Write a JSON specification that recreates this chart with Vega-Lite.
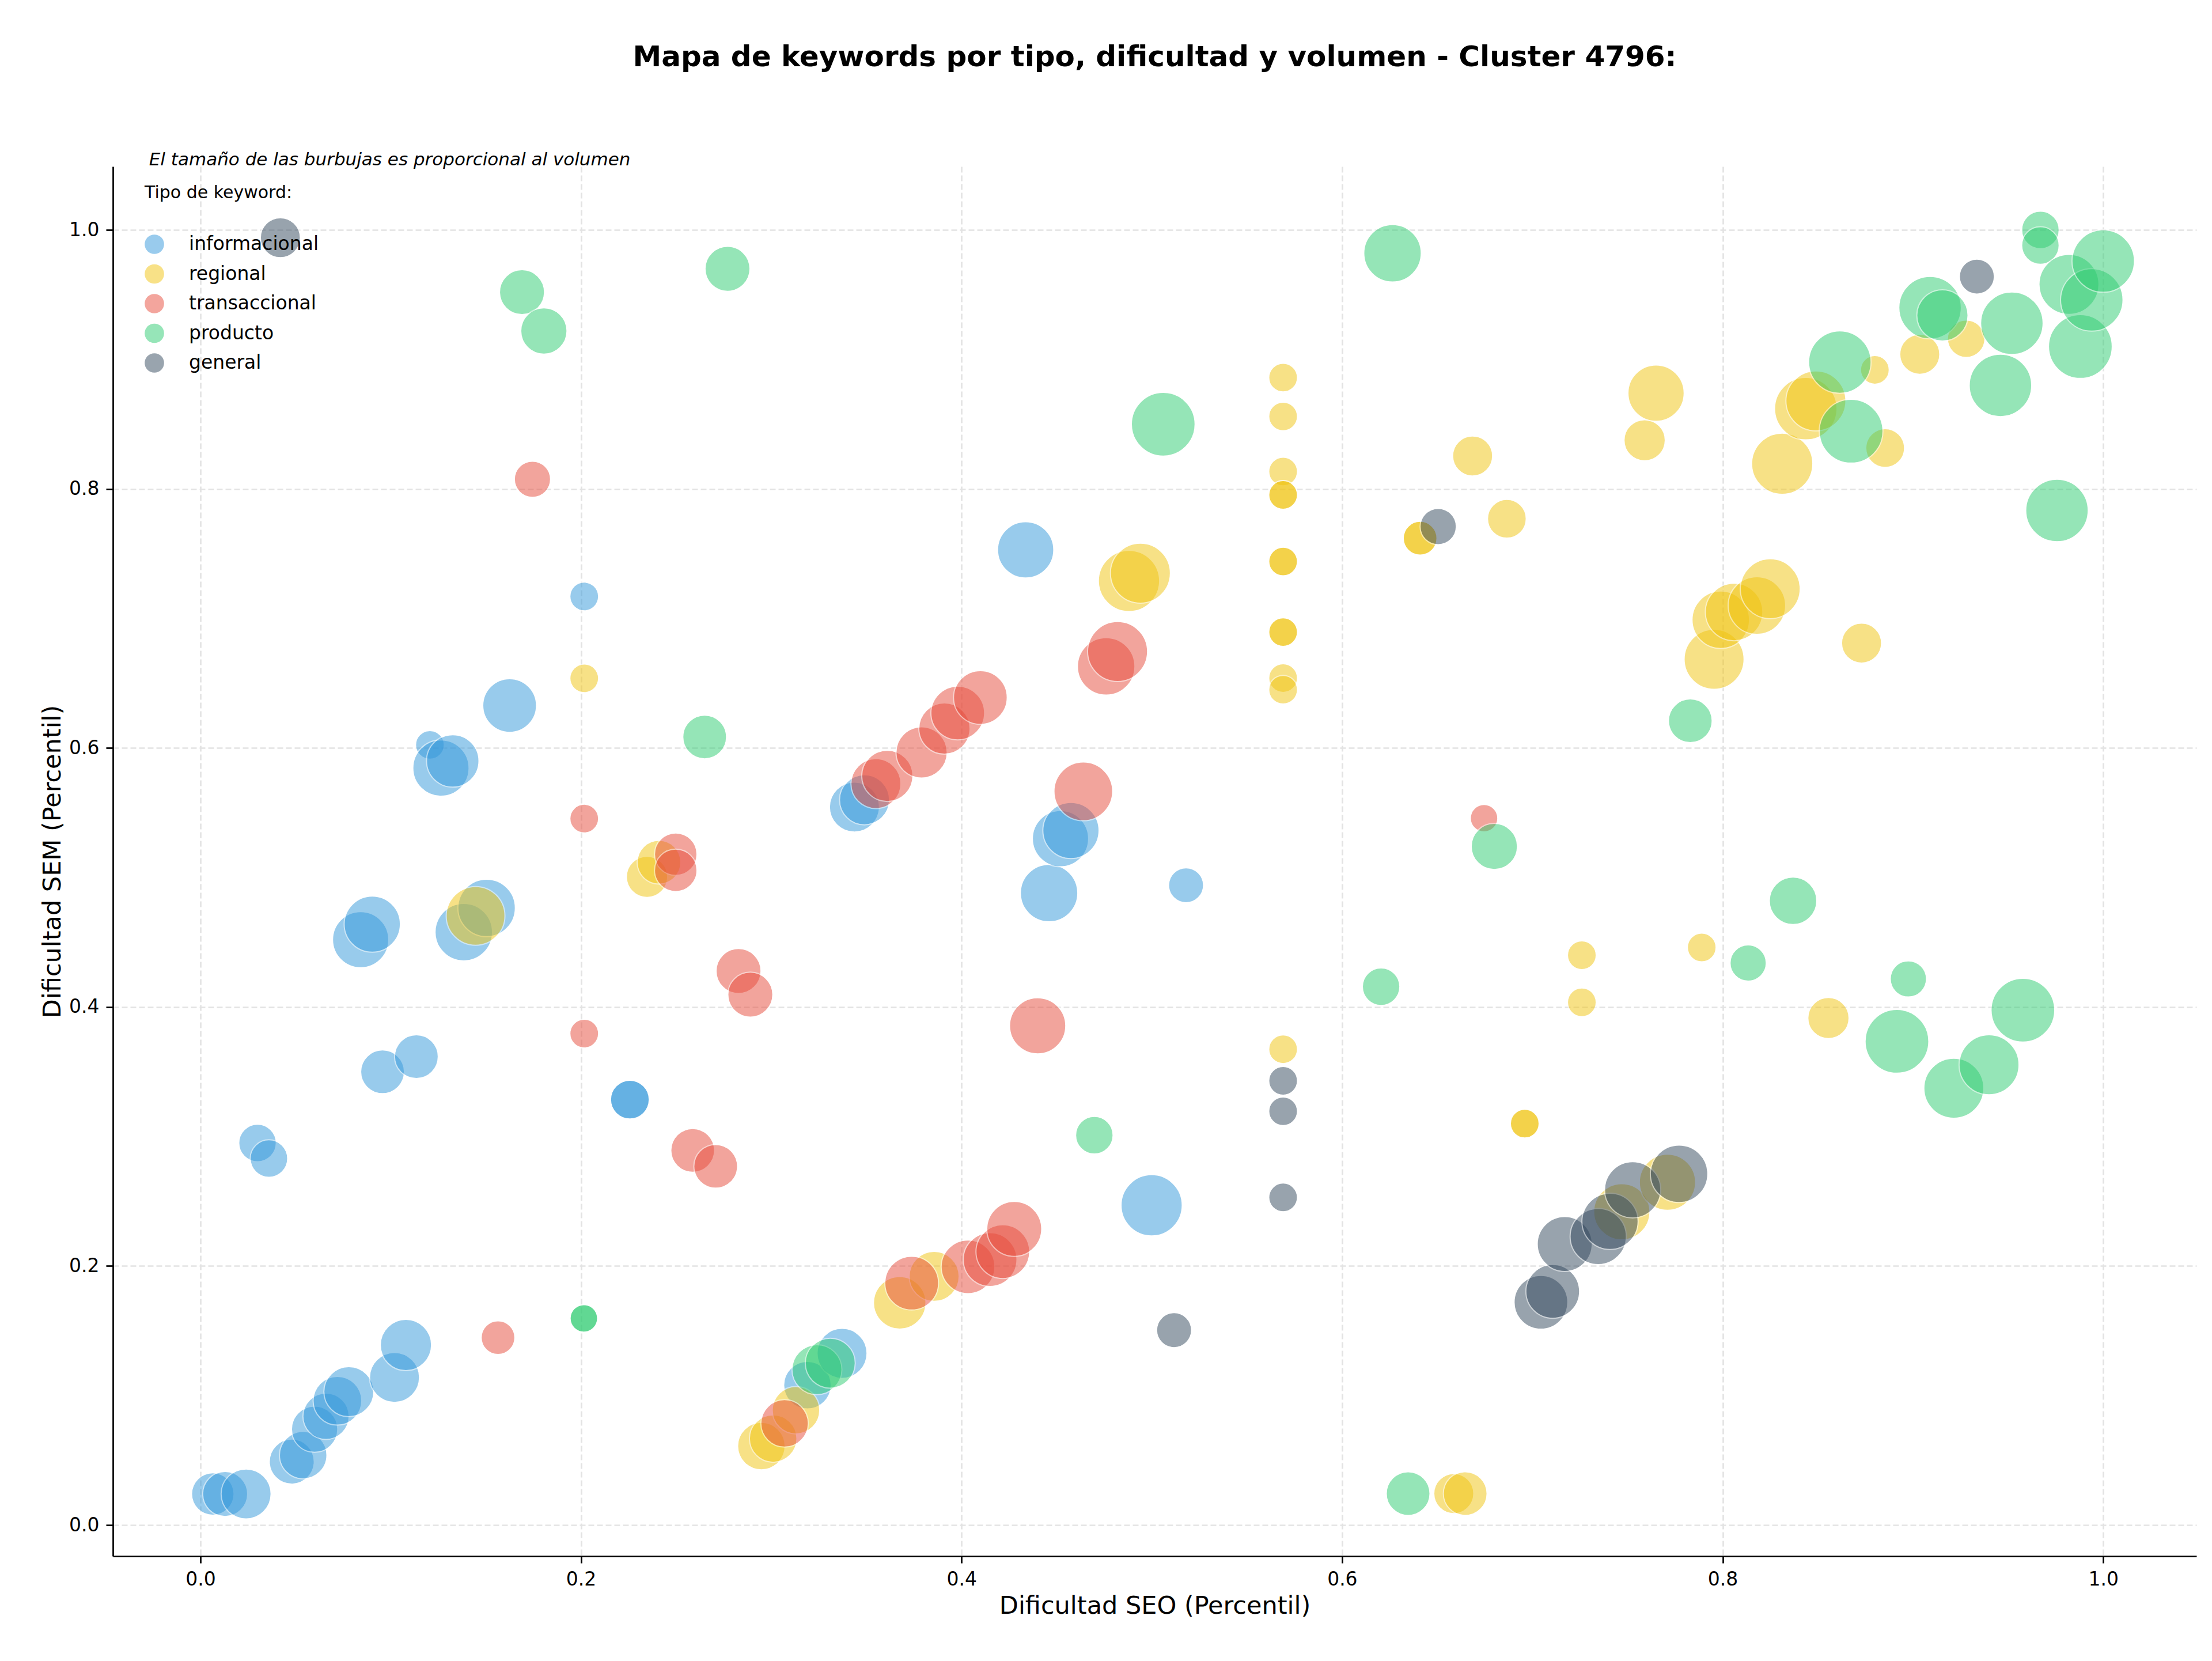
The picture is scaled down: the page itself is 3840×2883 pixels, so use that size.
{
  "$schema": "https://vega.github.io/schema/vega-lite/v6.json",
  "width": 3617,
  "height": 2412,
  "autosize": {"type": "none"},
  "padding": {"left": 196, "top": 289, "right": 27, "bottom": 182},
  "background": "white",
  "title": {
    "text": "Mapa de keywords por tipo, dificultad y volumen - Cluster 4796:",
    "font": "DejaVu Sans",
    "fontSize": 50,
    "fontWeight": "bold",
    "color": "black",
    "anchor": "middle",
    "offset": 137
  },
  "config": {
    "view": {"stroke": null},
    "axis": {
      "domainColor": "black",
      "domainWidth": 2.7,
      "tickColor": "black",
      "tickWidth": 2.7,
      "tickSize": 12,
      "labelFont": "DejaVu Sans",
      "labelFontSize": 33,
      "labelColor": "black",
      "labelPadding": 12,
      "titleFont": "DejaVu Sans",
      "titleFontSize": 43,
      "titleFontWeight": "normal",
      "titleColor": "black",
      "gridColor": "#e3e3e3",
      "gridDash": [10, 5],
      "gridWidth": 2.7
    }
  },
  "layer": [
    {
      "data": {
        "values": [
          {"tipo": "informacional", "seo": 0.0065, "sem": 0.024, "volumen": 1156},
          {"tipo": "informacional", "seo": 0.013, "sem": 0.024, "volumen": 1296},
          {"tipo": "informacional", "seo": 0.024, "sem": 0.024, "volumen": 1600},
          {"tipo": "informacional", "seo": 0.048, "sem": 0.049, "volumen": 1296},
          {"tipo": "informacional", "seo": 0.054, "sem": 0.054, "volumen": 1444},
          {"tipo": "informacional", "seo": 0.060, "sem": 0.074, "volumen": 1369},
          {"tipo": "informacional", "seo": 0.066, "sem": 0.084, "volumen": 1369},
          {"tipo": "informacional", "seo": 0.072, "sem": 0.096, "volumen": 1521},
          {"tipo": "informacional", "seo": 0.078, "sem": 0.103, "volumen": 1600},
          {"tipo": "informacional", "seo": 0.102, "sem": 0.114, "volumen": 1600},
          {"tipo": "informacional", "seo": 0.108, "sem": 0.139, "volumen": 1681},
          {"tipo": "informacional", "seo": 0.030, "sem": 0.295, "volumen": 900},
          {"tipo": "informacional", "seo": 0.036, "sem": 0.283, "volumen": 900},
          {"tipo": "informacional", "seo": 0.0957, "sem": 0.350, "volumen": 1225},
          {"tipo": "informacional", "seo": 0.1135, "sem": 0.3617, "volumen": 1225},
          {"tipo": "informacional", "seo": 0.2257, "sem": 0.3285, "volumen": 961},
          {"tipo": "informacional", "seo": 0.2257, "sem": 0.3285, "volumen": 961},
          {"tipo": "informacional", "seo": 0.0842, "sem": 0.452, "volumen": 2025},
          {"tipo": "informacional", "seo": 0.0903, "sem": 0.464, "volumen": 2025},
          {"tipo": "informacional", "seo": 0.1384, "sem": 0.4578, "volumen": 2116},
          {"tipo": "informacional", "seo": 0.1504, "sem": 0.4765, "volumen": 2116},
          {"tipo": "informacional", "seo": 0.1206, "sem": 0.6024, "volumen": 529},
          {"tipo": "informacional", "seo": 0.1264, "sem": 0.5845, "volumen": 2025},
          {"tipo": "informacional", "seo": 0.1326, "sem": 0.590, "volumen": 1764},
          {"tipo": "informacional", "seo": 0.1625, "sem": 0.6328, "volumen": 1849},
          {"tipo": "informacional", "seo": 0.2017, "sem": 0.717, "volumen": 529},
          {"tipo": "informacional", "seo": 0.3437, "sem": 0.5544, "volumen": 1600},
          {"tipo": "informacional", "seo": 0.349, "sem": 0.560, "volumen": 1600},
          {"tipo": "informacional", "seo": 0.446, "sem": 0.488, "volumen": 2116},
          {"tipo": "informacional", "seo": 0.452, "sem": 0.530, "volumen": 2025},
          {"tipo": "informacional", "seo": 0.4575, "sem": 0.5363, "volumen": 2025},
          {"tipo": "informacional", "seo": 0.518, "sem": 0.494, "volumen": 784},
          {"tipo": "informacional", "seo": 0.4337, "sem": 0.753, "volumen": 2025},
          {"tipo": "informacional", "seo": 0.4999, "sem": 0.2469, "volumen": 2401},
          {"tipo": "informacional", "seo": 0.319, "sem": 0.108, "volumen": 1444},
          {"tipo": "informacional", "seo": 0.3372, "sem": 0.1326, "volumen": 1600},

          {"tipo": "regional", "seo": 0.1446, "sem": 0.4704, "volumen": 2209},
          {"tipo": "regional", "seo": 0.2017, "sem": 0.6538, "volumen": 529},
          {"tipo": "regional", "seo": 0.2347, "sem": 0.5005, "volumen": 1089},
          {"tipo": "regional", "seo": 0.241, "sem": 0.5118, "volumen": 1225},
          {"tipo": "regional", "seo": 0.2948, "sem": 0.061, "volumen": 1444},
          {"tipo": "regional", "seo": 0.301, "sem": 0.0668, "volumen": 1444},
          {"tipo": "regional", "seo": 0.313, "sem": 0.0887, "volumen": 1444},
          {"tipo": "regional", "seo": 0.3675, "sem": 0.1716, "volumen": 1764},
          {"tipo": "regional", "seo": 0.3856, "sem": 0.192, "volumen": 1600},
          {"tipo": "regional", "seo": 0.488, "sem": 0.729, "volumen": 2401},
          {"tipo": "regional", "seo": 0.494, "sem": 0.735, "volumen": 2304},
          {"tipo": "regional", "seo": 0.569, "sem": 0.886, "volumen": 529},
          {"tipo": "regional", "seo": 0.569, "sem": 0.856, "volumen": 529},
          {"tipo": "regional", "seo": 0.569, "sem": 0.8135, "volumen": 529},
          {"tipo": "regional", "seo": 0.569, "sem": 0.7954, "volumen": 529},
          {"tipo": "regional", "seo": 0.569, "sem": 0.7954, "volumen": 529},
          {"tipo": "regional", "seo": 0.569, "sem": 0.744, "volumen": 529},
          {"tipo": "regional", "seo": 0.569, "sem": 0.744, "volumen": 529},
          {"tipo": "regional", "seo": 0.569, "sem": 0.6895, "volumen": 529},
          {"tipo": "regional", "seo": 0.569, "sem": 0.6895, "volumen": 529},
          {"tipo": "regional", "seo": 0.569, "sem": 0.654, "volumen": 529},
          {"tipo": "regional", "seo": 0.569, "sem": 0.645, "volumen": 529},
          {"tipo": "regional", "seo": 0.569, "sem": 0.3674, "volumen": 529},
          {"tipo": "regional", "seo": 0.641, "sem": 0.762, "volumen": 729},
          {"tipo": "regional", "seo": 0.641, "sem": 0.762, "volumen": 729},
          {"tipo": "regional", "seo": 0.6587, "sem": 0.0243, "volumen": 1024},
          {"tipo": "regional", "seo": 0.6647, "sem": 0.0243, "volumen": 1225},
          {"tipo": "regional", "seo": 0.6686, "sem": 0.8255, "volumen": 1024},
          {"tipo": "regional", "seo": 0.6866, "sem": 0.777, "volumen": 961},
          {"tipo": "regional", "seo": 0.696, "sem": 0.310, "volumen": 529},
          {"tipo": "regional", "seo": 0.696, "sem": 0.310, "volumen": 529},
          {"tipo": "regional", "seo": 0.726, "sem": 0.440, "volumen": 529},
          {"tipo": "regional", "seo": 0.726, "sem": 0.4036, "volumen": 529},
          {"tipo": "regional", "seo": 0.747, "sem": 0.2419, "volumen": 2025},
          {"tipo": "regional", "seo": 0.771, "sem": 0.2647, "volumen": 2025},
          {"tipo": "regional", "seo": 0.759, "sem": 0.8376, "volumen": 1089},
          {"tipo": "regional", "seo": 0.765, "sem": 0.874, "volumen": 2025},
          {"tipo": "regional", "seo": 0.789, "sem": 0.446, "volumen": 529},
          {"tipo": "regional", "seo": 0.7955, "sem": 0.6685, "volumen": 2304},
          {"tipo": "regional", "seo": 0.799, "sem": 0.699, "volumen": 2116},
          {"tipo": "regional", "seo": 0.806, "sem": 0.705, "volumen": 2116},
          {"tipo": "regional", "seo": 0.818, "sem": 0.710, "volumen": 2116},
          {"tipo": "regional", "seo": 0.825, "sem": 0.723, "volumen": 2304},
          {"tipo": "regional", "seo": 0.8313, "sem": 0.8195, "volumen": 2401},
          {"tipo": "regional", "seo": 0.8437, "sem": 0.862, "volumen": 2500},
          {"tipo": "regional", "seo": 0.849, "sem": 0.868, "volumen": 2304},
          {"tipo": "regional", "seo": 0.8556, "sem": 0.3915, "volumen": 1089},
          {"tipo": "regional", "seo": 0.873, "sem": 0.681, "volumen": 1024},
          {"tipo": "regional", "seo": 0.880, "sem": 0.892, "volumen": 529},
          {"tipo": "regional", "seo": 0.8854, "sem": 0.8316, "volumen": 961},
          {"tipo": "regional", "seo": 0.9036, "sem": 0.904, "volumen": 1024},
          {"tipo": "regional", "seo": 0.928, "sem": 0.916, "volumen": 900},

          {"tipo": "transaccional", "seo": 0.1745, "sem": 0.8075, "volumen": 841},
          {"tipo": "transaccional", "seo": 0.2017, "sem": 0.5455, "volumen": 529},
          {"tipo": "transaccional", "seo": 0.2017, "sem": 0.3795, "volumen": 529},
          {"tipo": "transaccional", "seo": 0.2498, "sem": 0.518, "volumen": 1156},
          {"tipo": "transaccional", "seo": 0.2498, "sem": 0.5055, "volumen": 1156},
          {"tipo": "transaccional", "seo": 0.2587, "sem": 0.2893, "volumen": 1225},
          {"tipo": "transaccional", "seo": 0.2708, "sem": 0.277, "volumen": 1225},
          {"tipo": "transaccional", "seo": 0.2828, "sem": 0.4278, "volumen": 1296},
          {"tipo": "transaccional", "seo": 0.289, "sem": 0.4096, "volumen": 1296},
          {"tipo": "transaccional", "seo": 0.1564, "sem": 0.1447, "volumen": 729},
          {"tipo": "transaccional", "seo": 0.307, "sem": 0.0785, "volumen": 1444},
          {"tipo": "transaccional", "seo": 0.355, "sem": 0.5725, "volumen": 1600},
          {"tipo": "transaccional", "seo": 0.361, "sem": 0.5785, "volumen": 1681},
          {"tipo": "transaccional", "seo": 0.379, "sem": 0.5966, "volumen": 1681},
          {"tipo": "transaccional", "seo": 0.391, "sem": 0.615, "volumen": 1681},
          {"tipo": "transaccional", "seo": 0.398, "sem": 0.627, "volumen": 1849},
          {"tipo": "transaccional", "seo": 0.4099, "sem": 0.639, "volumen": 1849},
          {"tipo": "transaccional", "seo": 0.464, "sem": 0.5665, "volumen": 2209},
          {"tipo": "transaccional", "seo": 0.476, "sem": 0.663, "volumen": 2116},
          {"tipo": "transaccional", "seo": 0.482, "sem": 0.6745, "volumen": 2304},
          {"tipo": "transaccional", "seo": 0.44, "sem": 0.3855, "volumen": 2025},
          {"tipo": "transaccional", "seo": 0.3738, "sem": 0.1868, "volumen": 1849},
          {"tipo": "transaccional", "seo": 0.4034, "sem": 0.1994, "volumen": 1849},
          {"tipo": "transaccional", "seo": 0.415, "sem": 0.205, "volumen": 1849},
          {"tipo": "transaccional", "seo": 0.4217, "sem": 0.2111, "volumen": 1849},
          {"tipo": "transaccional", "seo": 0.4277, "sem": 0.2287, "volumen": 1936},
          {"tipo": "transaccional", "seo": 0.6746, "sem": 0.5458, "volumen": 484},

          {"tipo": "producto", "seo": 0.169, "sem": 0.952, "volumen": 1296},
          {"tipo": "producto", "seo": 0.1805, "sem": 0.922, "volumen": 1369},
          {"tipo": "producto", "seo": 0.277, "sem": 0.970, "volumen": 1296},
          {"tipo": "producto", "seo": 0.265, "sem": 0.6085, "volumen": 1225},
          {"tipo": "producto", "seo": 0.2015, "sem": 0.1596, "volumen": 484},
          {"tipo": "producto", "seo": 0.2015, "sem": 0.1596, "volumen": 484},
          {"tipo": "producto", "seo": 0.324, "sem": 0.120, "volumen": 1600},
          {"tipo": "producto", "seo": 0.331, "sem": 0.125, "volumen": 1600},
          {"tipo": "producto", "seo": 0.4698, "sem": 0.301, "volumen": 900},
          {"tipo": "producto", "seo": 0.506, "sem": 0.850, "volumen": 2601},
          {"tipo": "producto", "seo": 0.6265, "sem": 0.982, "volumen": 2116},
          {"tipo": "producto", "seo": 0.6205, "sem": 0.4157, "volumen": 900},
          {"tipo": "producto", "seo": 0.6347, "sem": 0.0243, "volumen": 1225},
          {"tipo": "producto", "seo": 0.680, "sem": 0.524, "volumen": 1369},
          {"tipo": "producto", "seo": 0.783, "sem": 0.621, "volumen": 1225},
          {"tipo": "producto", "seo": 0.8134, "sem": 0.434, "volumen": 841},
          {"tipo": "producto", "seo": 0.837, "sem": 0.482, "volumen": 1444},
          {"tipo": "producto", "seo": 0.8616, "sem": 0.898, "volumen": 2500},
          {"tipo": "producto", "seo": 0.8675, "sem": 0.8446, "volumen": 2601},
          {"tipo": "producto", "seo": 0.8916, "sem": 0.3735, "volumen": 2601},
          {"tipo": "producto", "seo": 0.8976, "sem": 0.4217, "volumen": 841},
          {"tipo": "producto", "seo": 0.909, "sem": 0.940, "volumen": 2500},
          {"tipo": "producto", "seo": 0.9155, "sem": 0.934, "volumen": 1681},
          {"tipo": "producto", "seo": 0.9215, "sem": 0.3373, "volumen": 2304},
          {"tipo": "producto", "seo": 0.940, "sem": 0.3554, "volumen": 2304},
          {"tipo": "producto", "seo": 0.946, "sem": 0.880, "volumen": 2500},
          {"tipo": "producto", "seo": 0.952, "sem": 0.928, "volumen": 2500},
          {"tipo": "producto", "seo": 0.9578, "sem": 0.3976, "volumen": 2601},
          {"tipo": "producto", "seo": 0.967, "sem": 1.0, "volumen": 900},
          {"tipo": "producto", "seo": 0.967, "sem": 0.988, "volumen": 900},
          {"tipo": "producto", "seo": 0.9757, "sem": 0.7834, "volumen": 2500},
          {"tipo": "producto", "seo": 0.982, "sem": 0.958, "volumen": 2304},
          {"tipo": "producto", "seo": 0.988, "sem": 0.910, "volumen": 2601},
          {"tipo": "producto", "seo": 0.994, "sem": 0.946, "volumen": 2500},
          {"tipo": "producto", "seo": 1.0, "sem": 0.976, "volumen": 2500},

          {"tipo": "general", "seo": 0.042, "sem": 0.994, "volumen": 1024},
          {"tipo": "general", "seo": 0.5117, "sem": 0.1505, "volumen": 784},
          {"tipo": "general", "seo": 0.569, "sem": 0.343, "volumen": 529},
          {"tipo": "general", "seo": 0.569, "sem": 0.3195, "volumen": 529},
          {"tipo": "general", "seo": 0.569, "sem": 0.253, "volumen": 529},
          {"tipo": "general", "seo": 0.6505, "sem": 0.771, "volumen": 841},
          {"tipo": "general", "seo": 0.7045, "sem": 0.172, "volumen": 1849},
          {"tipo": "general", "seo": 0.7107, "sem": 0.1804, "volumen": 1849},
          {"tipo": "general", "seo": 0.717, "sem": 0.217, "volumen": 1936},
          {"tipo": "general", "seo": 0.7346, "sem": 0.2228, "volumen": 2025},
          {"tipo": "general", "seo": 0.7408, "sem": 0.2345, "volumen": 2025},
          {"tipo": "general", "seo": 0.7527, "sem": 0.2589, "volumen": 2025},
          {"tipo": "general", "seo": 0.7771, "sem": 0.2712, "volumen": 2116},
          {"tipo": "general", "seo": 0.9336, "sem": 0.964, "volumen": 784}
        ]
      },
      "mark": {"type": "point", "shape": "circle", "filled": true, "opacity": 0.5, "stroke": "white", "strokeWidth": 2},
      "encoding": {
        "x": {
          "field": "seo", "type": "quantitative",
          "scale": {"domain": [-0.046, 1.049], "nice": false, "zero": false},
          "axis": {"title": "Dificultad SEO (Percentil)", "values": [0, 0.2, 0.4, 0.6, 0.8, 1.0], "format": ".1f", "titlePadding": 8}
        },
        "y": {
          "field": "sem", "type": "quantitative",
          "scale": {"domain": [-0.024, 1.049], "nice": false, "zero": false},
          "axis": {"title": "Dificultad SEM (Percentil)", "values": [0, 0.2, 0.4, 0.6, 0.8, 1.0], "format": ".1f", "titlePadding": 6}
        },
        "color": {
          "field": "tipo", "type": "nominal",
          "scale": {
            "domain": ["informacional", "regional", "transaccional", "producto", "general"],
            "range": ["#3498db", "#f1c40f", "#e74c3c", "#2ecc71", "#34495e"]
          },
          "legend": {
            "title": "Tipo de keyword:",
            "orient": "none",
            "legendX": 55,
            "legendY": 31,
            "padding": 0,
            "titleFont": "DejaVu Sans",
            "titleFontSize": 30,
            "titleFontWeight": "normal",
            "titleColor": "black",
            "titleLimit": 0,
            "titlePadding": 57,
            "labelFont": "DejaVu Sans",
            "labelFontSize": 33,
            "labelColor": "black",
            "labelLimit": 0,
            "labelOffset": 43,
            "symbolType": "circle",
            "symbolSize": 1134,
            "symbolOpacity": 0.5,
            "symbolStrokeWidth": 0,
            "rowPadding": 17.5
          }
        },
        "size": {
          "field": "volumen", "type": "quantitative",
          "scale": {"domain": [0, 2601], "range": [0, 12254], "zero": true},
          "legend": null
        }
      }
    },
    {
      "data": {"values": [{"nota": "El tamaño de las burbujas es proporcional al volumen"}]},
      "mark": {"type": "text", "align": "left", "baseline": "alphabetic", "font": "DejaVu Sans", "fontSize": 31, "fontStyle": "italic", "color": "black", "dy": -2},
      "encoding": {
        "x": {"datum": -0.027, "type": "quantitative"},
        "y": {"datum": 1.049, "type": "quantitative"},
        "text": {"field": "nota"}
      }
    }
  ]
}
